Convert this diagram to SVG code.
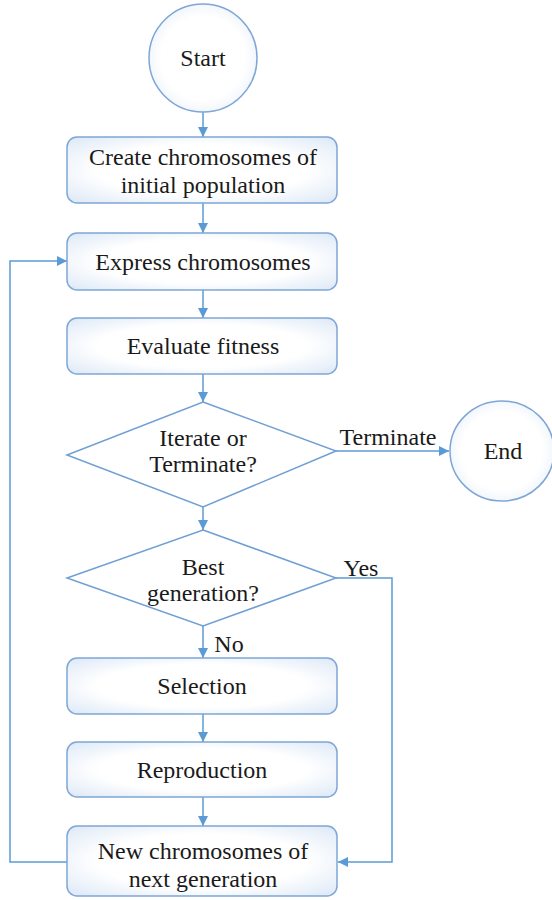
<svg xmlns="http://www.w3.org/2000/svg" width="552" height="900" viewBox="0 0 552 900">
<style>
.node{fill:url(#gb);stroke:#7ea6d6;stroke-width:1.5}
.dia{fill:#ffffff;stroke:#6f9fd3;stroke-width:1.5}
.t{font-family:'Liberation Serif','Times New Roman','DejaVu Serif',serif;font-size:24px;fill:#1a1a1a;text-anchor:middle}
.c{fill:none;stroke:#5b9bd5;stroke-width:1.5}
</style>
<defs>
<radialGradient id="gb" cx="50%" cy="50%" r="70%">
<stop offset="0.55" stop-color="#ffffff"/>
<stop offset="1" stop-color="#dce8f6"/>
</radialGradient>
<marker id="ah2" viewBox="0 0 10 10" refX="10" refY="5" markerWidth="12" markerHeight="10" markerUnits="userSpaceOnUse" orient="auto">
<path d="M0,0 L10,5 L0,10 z" fill="#5b9bd5"/>
</marker>
</defs>

<g id="connectors">
<path class="c" d="M203,112 V137" marker-end="url(#ah2)"/>
<path class="c" d="M203,203 V233" marker-end="url(#ah2)"/>
<path class="c" d="M203,290 V318" marker-end="url(#ah2)"/>
<path class="c" d="M203,374 V402" marker-end="url(#ah2)"/>
<path class="c" d="M336,451 H449" marker-end="url(#ah2)"/>
<path class="c" d="M203,507 V530" marker-end="url(#ah2)"/>
<path class="c" d="M203,626 V658" marker-end="url(#ah2)"/>
<path class="c" d="M203,714 V742" marker-end="url(#ah2)"/>
<path class="c" d="M203,797 V826" marker-end="url(#ah2)"/>
<path class="c" d="M336,578 H392 V862 H338" marker-end="url(#ah2)"/>
<path class="c" d="M67,862 H10 V261 H67" marker-end="url(#ah2)"/>
<text class="t" x="388" y="445">Terminate</text>
<text class="t" x="361" y="576">Yes</text>
<text class="t" x="229" y="652">No</text>
</g>

<g id="start">
<ellipse class="node" cx="203" cy="58" rx="54" ry="54"/>
<text class="t" x="203" y="66">Start</text>
</g>
<g id="create">
<rect class="node" x="67" y="137" width="270" height="66" rx="10"/>
<text class="t" x="203" y="165">Create chromosomes of</text>
<text class="t" x="203" y="193">initial population</text>
</g>
<g id="express">
<rect class="node" x="67" y="233" width="270" height="57" rx="10"/>
<text class="t" x="203" y="270">Express chromosomes</text>
</g>
<g id="evaluate">
<rect class="node" x="67" y="318" width="270" height="56" rx="10"/>
<text class="t" x="203" y="354">Evaluate fitness</text>
</g>
<g id="iterate">
<polygon class="dia" points="203,402 336,451 203,507 67,455"/>
<text class="t" x="203" y="446">Iterate or</text>
<text class="t" x="203" y="472">Terminate?</text>
</g>
<g id="end">
<ellipse class="node" cx="502" cy="451" rx="52" ry="50"/>
<text class="t" x="503" y="459">End</text>
</g>
<g id="best">
<polygon class="dia" points="203,530 336,578 203,626 67,578"/>
<text class="t" x="203" y="575">Best</text>
<text class="t" x="203" y="601">generation?</text>
</g>
<g id="selection">
<rect class="node" x="67" y="658" width="270" height="56" rx="10"/>
<text class="t" x="202" y="694">Selection</text>
</g>
<g id="reproduction">
<rect class="node" x="67" y="742" width="270" height="55" rx="10"/>
<text class="t" x="202" y="778">Reproduction</text>
</g>
<g id="newgen">
<rect class="node" x="67" y="826" width="270" height="70" rx="10"/>
<text class="t" x="203" y="859">New chromosomes of</text>
<text class="t" x="203" y="887">next generation</text>
</g>
</svg>
